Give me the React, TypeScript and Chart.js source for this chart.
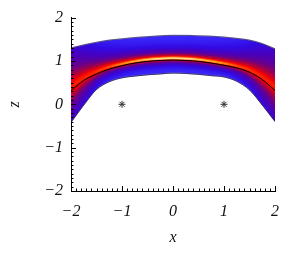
import { useEffect, useRef } from 'react';
import { Chart, registerables } from 'chart.js';
Chart.register(...registerables);

// ---- data ----
const xs = [-2, -1.75, -1.5, -1.25, -1, -0.75, -0.5, -0.25, 0, 0.25, 0.5, 0.75, 1, 1.25, 1.5, 1.75, 2];
const upperEdge = [1.30, 1.37, 1.43, 1.48, 1.51, 1.54, 1.56, 1.58, 1.59, 1.59, 1.58, 1.57, 1.55, 1.52, 1.48, 1.40, 1.28];
const lowerEdge = [-0.42, -0.02, 0.34, 0.52, 0.61, 0.65, 0.68, 0.70, 0.72, 0.71, 0.69, 0.66, 0.63, 0.53, 0.33, -0.02, -0.40];
const ridgeLine = [0.32, 0.55, 0.70, 0.81, 0.89, 0.95, 0.99, 1.01, 1.02, 1.01, 0.99, 0.95, 0.90, 0.84, 0.74, 0.57, 0.32];
const peakLine = [0.40, 0.61, 0.75, 0.86, 0.93, 0.99, 1.03, 1.05, 1.06, 1.05, 1.03, 0.99, 0.94, 0.88, 0.79, 0.63, 0.40];
const peakLevel = [0.86, 0.87, 0.89, 0.91, 0.94, 0.96, 0.98, 1.0, 1.0, 1.0, 0.98, 0.96, 0.94, 0.91, 0.89, 0.87, 0.86];
const spread = [1.0, 0.8, 0.62, 0.5, 0.44, 0.4, 0.38, 0.37, 0.36, 0.37, 0.38, 0.4, 0.44, 0.5, 0.62, 0.8, 1.0];
const starX = [-1, 1];
const starZ = [0, 0];
const xTickLabels = ['\u22122', '\u22121', '0', '1', '2'];
const yTickLabels = ['\u22122', '\u22121', '0', '1', '2'];
const xTitle = 'x';
const yTitle = 'z';

const cmapStops: [number, number, number, number][] = [
  [0.0, 60, 45, 255],
  [0.2, 50, 10, 228],
  [0.4, 75, 0, 185],
  [0.55, 100, 0, 145],
  [0.7, 165, 0, 70],
  [0.8, 235, 0, 10],
  [0.88, 255, 40, 0],
  [0.94, 255, 200, 30],
  [1.0, 255, 255, 235],
];

function cmap(t: number): [number, number, number] {
  t = Math.max(0, Math.min(1, t));
  for (let i = 1; i < cmapStops.length; i++) {
    const a = cmapStops[i - 1], b = cmapStops[i];
    if (t <= b[0]) {
      const f = (t - a[0]) / (b[0] - a[0]);
      return [a[1] + f * (b[1] - a[1]), a[2] + f * (b[2] - a[2]), a[3] + f * (b[3] - a[3])];
    }
  }
  const l = cmapStops[cmapStops.length - 1];
  return [l[1], l[2], l[3]];
}

// monotone cubic (same tangents as Chart.js 'monotone')
function tangents(arr: number[]): number[] {
  const n = arr.length;
  const dk: number[] = [];
  for (let i = 0; i < n - 1; i++) dk.push((arr[i + 1] - arr[i]) / (xs[i + 1] - xs[i]));
  const m: number[] = [];
  for (let i = 0; i < n; i++) {
    if (i === 0) m.push(dk[0]);
    else if (i === n - 1) m.push(dk[n - 2]);
    else m.push(Math.sign(dk[i - 1]) !== Math.sign(dk[i]) ? 0 : (dk[i - 1] + dk[i]) / 2);
  }
  for (let i = 0; i < n - 1; i++) {
    if (dk[i] === 0) { m[i] = m[i + 1] = 0; continue; }
    const a = m[i] / dk[i], b = m[i + 1] / dk[i];
    const s = a * a + b * b;
    if (s > 9) {
      const t = 3 / Math.sqrt(s);
      m[i] = a * t * dk[i]; m[i + 1] = b * t * dk[i];
    }
  }
  return m;
}

function makeInterp(arr: number[]) {
  const m = tangents(arr);
  return (xv: number) => {
    if (xv <= xs[0]) return arr[0];
    for (let i = 1; i < xs.length; i++) {
      if (xv <= xs[i]) {
        const h = xs[i] - xs[i - 1];
        const t = (xv - xs[i - 1]) / h;
        const t2 = t * t, t3 = t2 * t;
        return (2 * t3 - 3 * t2 + 1) * arr[i - 1] + (t3 - 2 * t2 + t) * h * m[i - 1]
          + (-2 * t3 + 3 * t2) * arr[i] + (t3 - t2) * h * m[i];
      }
    }
    return arr[arr.length - 1];
  };
}

const bandPlugin = {
  id: 'band',
  beforeDatasetsDraw(chart: any) {
    const { ctx, chartArea: a } = chart;
    const xS = chart.scales.x, yS = chart.scales.y;
    const fU = makeInterp(upperEdge), fL = makeInterp(lowerEdge), fP = makeInterp(peakLine);
    const fLv = makeInterp(peakLevel), fSp = makeInterp(spread);
    const w = Math.round(a.right - a.left), h = Math.round(a.bottom - a.top);
    const off = document.createElement('canvas');
    off.width = w; off.height = h;
    const octx = off.getContext('2d')!;
    const img = octx.createImageData(w, h);
    for (let i = 0; i < w; i++) {
      const xv = xS.getValueForPixel(a.left + i + 0.5);
      const yU = yS.getPixelForValue(fU(xv)) - a.top;
      const yL = yS.getPixelForValue(fL(xv)) - a.top;
      const yP = yS.getPixelForValue(fP(xv)) - a.top;
      const lvl = fLv(xv);
      const sp = fSp(xv);
      for (let j = Math.max(0, Math.floor(yU)); j < Math.min(h, Math.ceil(yL)); j++) {
        const yc = j + 0.5;
        let cov = 1;
        if (j < yU) cov = j + 1 - yU;
        if (j + 1 > yL) cov = Math.min(cov, yL - j);
        const d = yc < yP ? (yP - yc) / (yP - yU) : (yc - yP) / (yL - yP);
        const t = lvl * Math.exp(-Math.pow(Math.max(0, d) / sp, 1.3));
        const [r, g, b] = cmap(t);
        const k = (j * w + i) * 4;
        img.data[k] = r; img.data[k + 1] = g; img.data[k + 2] = b;
        img.data[k + 3] = Math.round(255 * Math.max(0, Math.min(1, cov)));
      }
    }
    octx.putImageData(img, 0, 0);
    ctx.drawImage(off, a.left, a.top);
  },
};

const ticksPlugin = {
  id: 'inticks',
  afterDraw(chart: any) {
    const { ctx, chartArea: a } = chart;
    const xS = chart.scales.x, yS = chart.scales.y;
    ctx.save();
    ctx.strokeStyle = '#000';
    ctx.lineWidth = 1;
    ctx.beginPath();
    for (let k = -20; k <= 20; k++) {
      const v = k / 10;
      const major = k % 10 === 0;
      const len = major ? 5 : 2.5;
      const px = Math.round(xS.getPixelForValue(v)) + 0.5;
      ctx.moveTo(px, a.bottom);
      ctx.lineTo(px, a.bottom - len);
      const py = Math.round(yS.getPixelForValue(v)) + 0.5;
      ctx.moveTo(a.left, py);
      ctx.lineTo(a.left + len, py);
    }
    ctx.stroke();
    ctx.restore();
  },
};

export default function App() {
  const ref = useRef<HTMLCanvasElement>(null);
  useEffect(() => {
    const tickFont = { family: '"Liberation Serif", serif', style: 'italic' as const, size: 16 };
    const lineCommon = { pointRadius: 0, fill: false, cubicInterpolationMode: 'monotone' as const };
    const chart = new Chart(ref.current!, {
      type: 'line',
      data: {
        datasets: [
          {
            data: xs.map((x, i) => ({ x, y: ridgeLine[i] })),
            borderColor: '#000', borderWidth: 1, ...lineCommon,
          },
          {
            data: xs.map((x, i) => ({ x, y: upperEdge[i] })),
            borderColor: 'rgba(0,0,0,0.5)', borderWidth: 1, ...lineCommon,
          },
          {
            data: xs.map((x, i) => ({ x, y: lowerEdge[i] })),
            borderColor: 'rgba(0,0,0,0.6)', borderWidth: 1, ...lineCommon,
          },
          {
            type: 'scatter',
            data: starX.map((x, i) => ({ x, y: starZ[i] })),
            showLine: false, pointStyle: 'star', pointRadius: 3.5,
            borderColor: '#333', borderWidth: 1, backgroundColor: '#333',
          } as any,
        ],
      },
      options: {
        animation: false,
        responsive: false,
        devicePixelRatio: 1,
        layout: { padding: { top: 4, right: 18, left: 0, bottom: 0 } },
        plugins: { legend: { display: false }, tooltip: { enabled: false } },
        scales: {
          x: {
            type: 'linear', min: -2, max: 2,
            grid: { display: false, drawTicks: false },
            border: { display: true, color: '#000', width: 1 },
            ticks: {
              stepSize: 1, padding: 11, color: '#111', font: tickFont,
              callback: (_v: any, i: number) => xTickLabels[i],
            },
            title: {
              display: true, text: xTitle, color: '#111',
              font: { family: '"Liberation Serif", serif', style: 'italic', size: 16 },
              padding: { top: 0, bottom: 7 },
            },
            afterFit: (s: any) => { s.height = 63; },
          },
          y: {
            type: 'linear', min: -2, max: 2,
            grid: { display: false, drawTicks: false },
            border: { display: true, color: '#000', width: 1 },
            ticks: {
              stepSize: 1, padding: 8, color: '#111', font: tickFont,
              callback: (_v: any, i: number) => yTickLabels[i],
            },
            title: {
              display: true, text: yTitle, color: '#111',
              font: { family: '"Liberation Serif", serif', style: 'italic', size: 16 },
              padding: { top: 5, bottom: 0 },
            },
            afterFit: (s: any) => { s.width = 71; },
          },
        },
      },
      plugins: [bandPlugin, ticksPlugin],
    });
    return () => chart.destroy();
  }, []);
  return (
    <div style={{ position: 'fixed', left: 0, top: 0, width: 293, height: 254, background: '#fff' }}>
      <canvas ref={ref} width={293} height={254} />
    </div>
  );
}
